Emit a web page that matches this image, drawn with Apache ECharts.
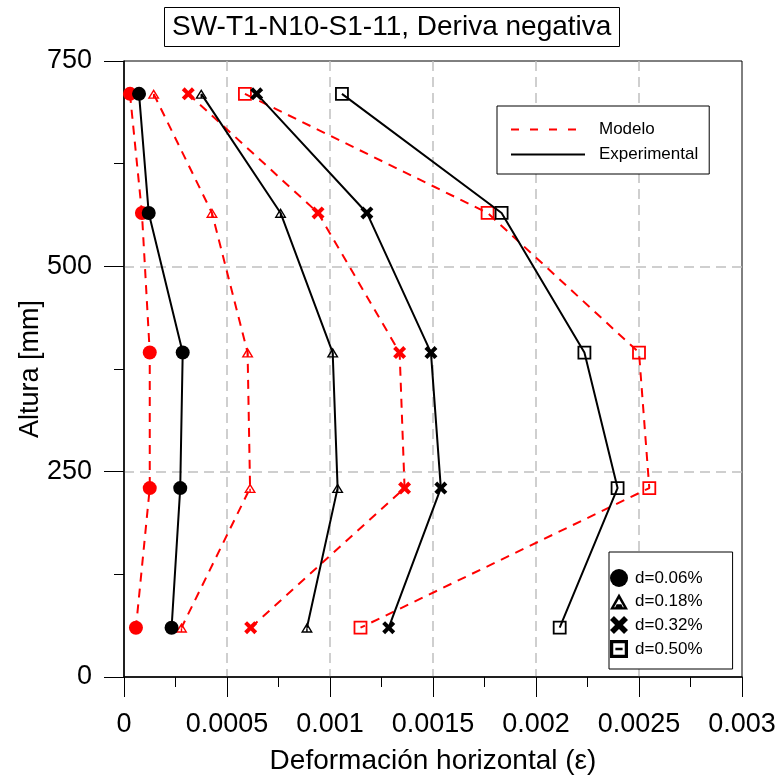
<!DOCTYPE html>
<html>
<head>
<meta charset="utf-8">
<script src="https://cdn.jsdelivr.net/npm/echarts@6/dist/echarts.min.js"></script>
<style>
  html, body { margin: 0; padding: 0; background: #fff; }
  #chart { width: 779px; height: 780px; }
</style>
</head>
<body>
<div id="chart"></div>
<script>
// Measurement heights along the wall (mm)
const heights = [710, 565, 395, 230, 60];

// Drift levels shown in the marker legend
const driftLabels = ['d=0.06%', 'd=0.18%', 'd=0.32%', 'd=0.50%'];

// Model (numerical) horizontal strain per height
const model006 = [0.000029, 0.000087, 0.000125, 0.000125, 0.000058];
const model018 = [0.000144, 0.000427, 0.000600, 0.000612, 0.000279];
const model032 = [0.000312, 0.000942, 0.001338, 0.001362, 0.000615];
const model050 = [0.000587, 0.001765, 0.002500, 0.002550, 0.001148];

// Experimental horizontal strain per height
const exp006 = [0.000073, 0.000120, 0.000285, 0.000273, 0.000231];
const exp018 = [0.000375, 0.000760, 0.001013, 0.001037, 0.000888];
const exp032 = [0.000644, 0.001179, 0.001490, 0.001538, 0.001285];
const exp050 = [0.001058, 0.001833, 0.002235, 0.002396, 0.002115];

// Axis tick labels
const xTickLabels = ['0', '0.0005', '0.001', '0.0015', '0.002', '0.0025', '0.003'];
const yTickLabels = ['0', '250', '500', '750'];

const FONT = 'Liberation Sans, Arial, Helvetica, sans-serif';
const RED = '#ff0000';
const BLACK = '#000000';

// Marker shapes
const crossPath = 'path://M0,2.2 L2.2,0 L5,2.8 L7.8,0 L10,2.2 L7.2,5 L10,7.8 L7.8,10 L5,7.2 L2.2,10 L0,7.8 L2.8,5 Z';
const triPath = 'path://M5,0 L10,9 L0,9 Z M5,2.6 L2,7.8 L8,7.8 Z M4.4,5 L5.6,5 L5.6,7.8 L4.4,7.8 Z';
const legendTriPath = 'path://M5,0 L10,9 L0,9 Z M5,3 L2.3,7.7 L7.7,7.7 Z M3.7,6 L6.3,6 L7.1,7.7 L2.9,7.7 Z';
const legendSquarePath = 'path://M0,0 L10,0 L10,10 L0,10 Z M1.8,1.8 L1.8,8.2 L8.2,8.2 L8.2,1.8 Z M3,4.3 L7,4.3 L7,5.7 L3,5.7 Z';

const markerStyles = [
  { symbol: 'circle', size: 14, hollow: false },
  { symbol: triPath, size: [12, 11], hollow: false },
  { symbol: crossPath, size: 13, hollow: false },
  { symbol: 'rect', size: 12, hollow: true }
];

function toPoints(xs) {
  return xs.map((x, i) => [x, heights[i]]);
}

function profileSeries(name, xs, marker, color, dashed) {
  return {
    name: name,
    type: 'line',
    data: toPoints(xs),
    symbol: marker.symbol,
    symbolSize: marker.size,
    symbolKeepAspect: true,
    lineStyle: { color: color, width: 2, type: dashed ? [9, 7] : 'solid' },
    itemStyle: marker.hollow
      ? { color: 'transparent', borderColor: color, borderWidth: 1.8 }
      : { color: color },
    silent: true,
    z: dashed ? 2 : 3
  };
}

const modelSets = [model006, model018, model032, model050];
const expSets = [exp006, exp018, exp032, exp050];

const series = [];
modelSets.forEach((xs, i) => series.push(profileSeries('Modelo ' + driftLabels[i], xs, markerStyles[i], RED, true)));
expSets.forEach((xs, i) => series.push(profileSeries('Experimental ' + driftLabels[i], xs, markerStyles[i], BLACK, false)));

// Legend entries (no data of their own)
series.push({ name: 'Modelo', type: 'line', data: [], symbol: 'none',
  lineStyle: { color: RED, width: 2, type: [8, 11] }, itemStyle: { color: RED } });
series.push({ name: 'Experimental', type: 'line', data: [], symbol: 'none',
  lineStyle: { color: BLACK, width: 2, type: 'solid' }, itemStyle: { color: BLACK } });
driftLabels.forEach(name => series.push({ name: name, type: 'line', data: [], symbol: 'none',
  lineStyle: { color: BLACK, width: 0 }, itemStyle: { color: BLACK } }));

const chart = echarts.init(document.getElementById('chart'), null, { renderer: 'canvas' });

chart.setOption({
  animation: false,
  backgroundColor: '#fff',
  textStyle: { fontFamily: FONT, color: BLACK },
  title: {
    text: 'SW-T1-N10-S1-11, Deriva negativa',
    left: 164,
    top: 7,
    padding: [6, 8, 6, 8],
    borderColor: BLACK,
    borderWidth: 1,
    textStyle: { fontSize: 28, fontWeight: 'normal', fontFamily: FONT, color: BLACK }
  },
  grid: {
    left: 124, right: 37, top: 61, bottom: 102,
    show: true, borderColor: BLACK, borderWidth: 1, backgroundColor: 'transparent'
  },
  legend: [
    {
      data: ['Modelo', 'Experimental'],
      orient: 'vertical',
      left: 497,
      top: 106,
      padding: [15, 11, 11, 13],
      itemWidth: 74,
      itemHeight: 14,
      itemGap: 8,
      selectedMode: false,
      backgroundColor: '#fff',
      borderColor: BLACK,
      borderWidth: 1,
      itemStyle: { opacity: 0 },
      textStyle: { fontSize: 17, fontFamily: FONT, color: BLACK, padding: [0, 0, 0, 9] }
    },
    {
      data: [
        { name: driftLabels[0], icon: 'circle' },
        { name: driftLabels[1], icon: legendTriPath },
        { name: driftLabels[2], icon: crossPath },
        { name: driftLabels[3], icon: legendSquarePath }
      ],
      orient: 'vertical',
      left: 609,
      top: 552,
      padding: [17, 30, 11, 1],
      itemWidth: 18,
      itemHeight: 18,
      itemGap: 6,
      symbolKeepAspect: true,
      selectedMode: false,
      backgroundColor: '#fff',
      borderColor: BLACK,
      borderWidth: 1,
      itemStyle: { color: BLACK },
      textStyle: { fontSize: 17, fontFamily: FONT, color: BLACK, padding: [0, 0, 0, 2] }
    }
  ],
  xAxis: {
    type: 'value',
    min: 0,
    max: 0.003,
    interval: 0.0005,
    name: 'Deformación horizontal (ε)',
    nameLocation: 'middle',
    nameGap: 70,
    nameMoveOverlap: false,
    nameTextStyle: { fontSize: 28, fontFamily: FONT, color: BLACK },
    axisLine: { show: true, onZero: false, lineStyle: { color: BLACK, width: 1.5 } },
    axisTick: { show: true, length: 20, lineStyle: { color: BLACK, width: 1 } },
    minorTick: { show: true, splitNumber: 2, length: 10, lineStyle: { color: BLACK, width: 1 } },
    splitLine: { show: true, showMinLine: false, showMaxLine: false,
      lineStyle: { color: '#c0c0c0', width: 1.5, type: [10, 6] } },
    axisLabel: {
      fontSize: 27, fontFamily: FONT, color: BLACK, margin: 34,
      formatter: v => xTickLabels[Math.round(v / 0.0005)]
    }
  },
  yAxis: {
    type: 'value',
    min: 0,
    max: 750,
    interval: 250,
    name: 'Altura [mm]',
    nameLocation: 'middle',
    nameGap: 80,
    nameMoveOverlap: false,
    nameTextStyle: { fontSize: 27, fontFamily: FONT, color: BLACK },
    axisLine: { show: true, onZero: false, lineStyle: { color: BLACK, width: 1.5 } },
    axisTick: { show: true, length: 20, lineStyle: { color: BLACK, width: 1 } },
    minorTick: { show: true, splitNumber: 2, length: 10, lineStyle: { color: BLACK, width: 1 } },
    splitLine: { show: true, showMinLine: false, showMaxLine: false,
      lineStyle: { color: '#c0c0c0', width: 1.5, type: [10, 6] } },
    axisLabel: {
      fontSize: 27, fontFamily: FONT, color: BLACK, margin: 32,
      formatter: v => yTickLabels[Math.round(v / 250)]
    }
  },
  series: series
});
</script>
</body>
</html>
